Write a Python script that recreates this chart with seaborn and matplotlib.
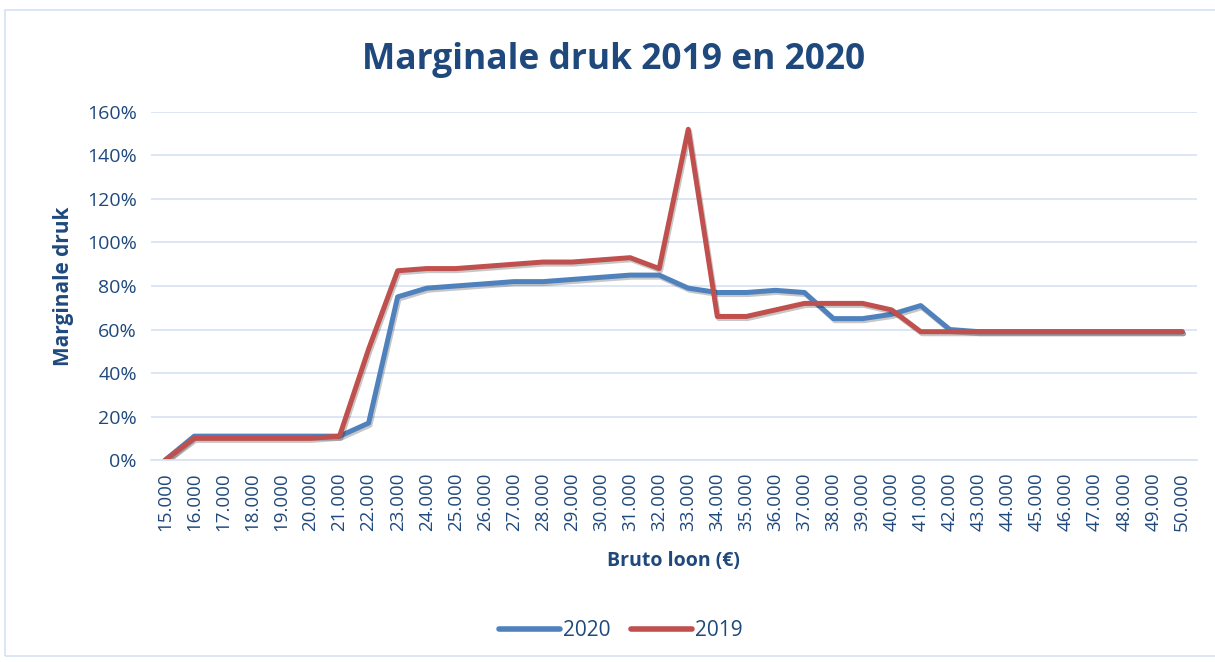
import numpy as np
import pandas as pd
import matplotlib
matplotlib.use("Agg")
import matplotlib.pyplot as plt
import matplotlib.patheffects as pe
from matplotlib.ticker import FixedLocator, PercentFormatter
import seaborn as sns

# Bruto loon categorieën (x-as)
lonen = [f"{k}.000" for k in range(15, 51)]

# Marginale druk in procenten
druk_2020 = [0, 11, 11, 11, 11, 11, 11, 17, 75, 79, 80, 81, 82, 82, 83, 84,
             85, 85, 79, 77, 77, 78, 77, 65, 65, 67, 71, 60, 59, 59, 59, 59,
             59, 59, 59, 59]
druk_2019 = [0, 10, 10, 10, 10, 10, 11, 51, 87, 88, 88, 89, 90, 91, 91, 92,
             93, 88, 152, 66, 66, 69, 72, 72, 72, 69, 59, 59, 59, 59, 59, 59,
             59, 59, 59, 59]

jaren = ["2020", "2019"]
kleuren = {"2020": "#4F81BD", "2019": "#C0504D"}
tekst = "#1F497D"

df = pd.DataFrame({
    "pos": list(range(len(lonen))) * 2,
    "druk": druk_2020 + druk_2019,
    "jaar": ["2020"] * len(lonen) + ["2019"] * len(lonen),
})

sns.set_style("white")
plt.rcParams["font.family"] = ["Open Sans", "DejaVu Sans"]

fig = plt.figure(figsize=(12.15, 6.62), dpi=100)
ax = fig.add_axes([0.124, 0.305, 0.861, 0.526])

sns.lineplot(data=df, x="pos", y="druk", hue="jaar", hue_order=jaren,
             palette=kleuren, linewidth=3.6, ax=ax, legend=True)

for line in ax.lines:
    line.set_solid_capstyle("round")
    line.set_solid_joinstyle("round")
    line.set_path_effects([pe.SimpleLineShadow(offset=(1, -1.5), alpha=0.22),
                           pe.Normal()])

ax.set_xlim(-0.5, len(lonen) - 0.5)
ax.set_ylim(0, 160)
ax.set_yticks(range(0, 161, 20))
ax.yaxis.set_major_formatter(PercentFormatter(decimals=0))
ax.set_xticks(range(len(lonen)))
ax.set_xticklabels(lonen, rotation=90)
ax.xaxis.set_minor_locator(FixedLocator(np.arange(-0.5, len(lonen), 1)))

ax.grid(axis="y", color="#D6E2F2", linewidth=1.2)
for s in ["top", "right", "left"]:
    ax.spines[s].set_visible(False)
ax.spines["bottom"].set_color("#D6E2F2")
ax.spines["bottom"].set_linewidth(1.2)

ax.tick_params(axis="x", which="major", length=0, pad=9, labelsize=13.5, labelcolor=tekst)
ax.tick_params(axis="x", which="minor", length=7, width=1.2, color="#D6E2F2")
ax.tick_params(axis="y", length=0, pad=10, labelsize=14, labelcolor=tekst)

ax.set_xlabel("Bruto loon (€)", fontsize=14, fontweight="bold", color=tekst, labelpad=14)
ax.set_ylabel("Marginale druk", fontsize=15, fontweight="bold", color=tekst, labelpad=9)
fig.suptitle("Marginale druk 2019 en 2020", x=0.505, y=0.937, fontsize=25.5,
             fontweight="bold", color=tekst)

handles, labels = ax.get_legend_handles_labels()
leg = ax.legend(handles, labels, loc="center", bbox_to_anchor=(0.511, 0.047),
                bbox_transform=fig.transFigure, ncol=2, frameon=False,
                fontsize=15, handlelength=2.9, columnspacing=1.0, handletextpad=0.15)
for t in leg.get_texts():
    t.set_color(tekst)
for h in leg.get_lines():
    h.set_linewidth(4)
    h.set_solid_capstyle("round")
    h.set_path_effects([])

# rand rondom de grafiek
fig.patches.append(plt.Rectangle((5 / 1215, 6 / 662), 1.1, 1 - 16 / 662,
                                 transform=fig.transFigure, fill=False,
                                 edgecolor="#D6E2F2", linewidth=1.2))

fig.savefig("out.png", dpi=100)
